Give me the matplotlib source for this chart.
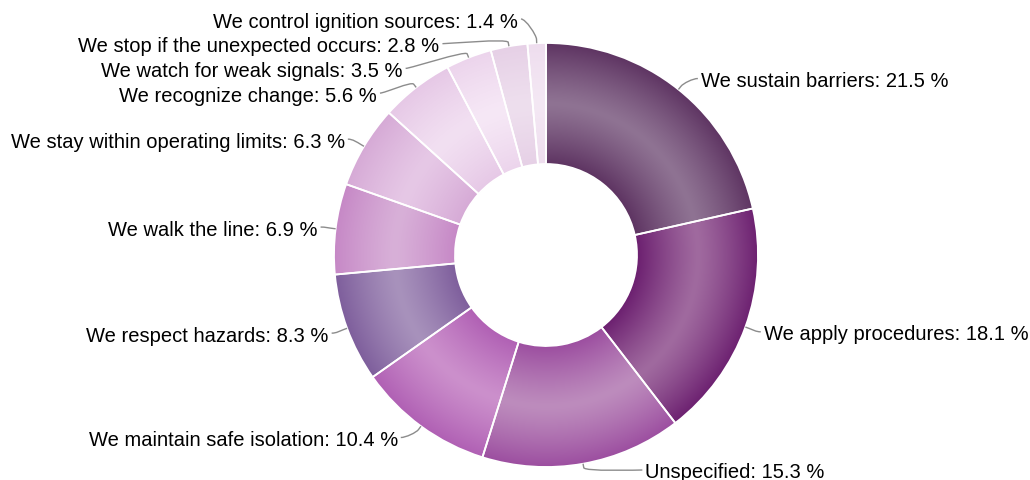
import numpy as np
import matplotlib.pyplot as plt
from matplotlib.patches import Wedge, PathPatch
from matplotlib.path import Path
from matplotlib.colors import to_rgb

plt.rcParams['font.family'] = ['Liberation Sans', 'DejaVu Sans']

# ------------------------------------------------------------
# Data
# ------------------------------------------------------------
labels = [
    'We sustain barriers',
    'We apply procedures',
    'Unspecified',
    'We maintain safe isolation',
    'We respect hazards',
    'We walk the line',
    'We stay within operating limits',
    'We recognize change',
    'We watch for weak signals',
    'We stop if the unexpected occurs',
    'We control ignition sources',
]
shares = [21.5, 18.1, 15.3, 10.4, 8.3, 6.9, 6.3, 5.6, 3.5, 2.8, 1.4]

# slice colours: (edge shade, mid-ring highlight)
edge_colors = ['#5e3462', '#6c2070', '#9c4ea0', '#b060b4', '#7e5e9c', '#c688c6',
               '#d6aad6', '#e6c8e6', '#ecd4ec', '#e6d0e6', '#eeddee']
mid_colors = ['#8f7393', '#a06a9f', '#bd8cbd', '#cc90cc', '#a892bc', '#d8b0d8',
              '#e6c8e6', '#f2e0f2', '#f6e8f6', '#eedfee', '#f4e8f4']

# ------------------------------------------------------------
# Layout (pixel units, y pointing down)
# ------------------------------------------------------------
W, H = 1030, 481
cx, cy = 546, 256
R_out, R_in = 212, 91
label_r = 226        # natural label radius
label_rx = 227       # horizontal radius used for label x
label_sq = 0.956
gap = 24.7
y_lo, y_hi = 20, 471

fig = plt.figure(figsize=(W / 100, H / 100), dpi=100)
ax = fig.add_axes([0, 0, 1, 1])
ax.set_xlim(0, W)
ax.set_ylim(H, 0)
ax.axis('off')

vals = np.array(shares, dtype=float)
frac = vals / vals.sum()
start = np.concatenate([[0], np.cumsum(frac)[:-1]]) * 360
end = np.cumsum(frac) * 360
mid = (start + end) / 2

# radial profile shared by all slices: bright at mid-ring, darker at both edges
res = 2
n = int(2 * R_out * res)
gx = np.linspace(cx - R_out, cx + R_out, n)
gy = np.linspace(cy - R_out, cy + R_out, n)
XX, YY = np.meshgrid(gx, gy)
rr = np.hypot(XX - cx, YY - cy)
r_mid = (R_out + R_in) / 2
t = np.clip(np.abs(rr - r_mid) / ((R_out - R_in) / 2), 0, 1) ** 1.2

for i in range(len(vals)):
    # clockwise from 12 o'clock on screen -> data angle with inverted y
    w = Wedge((cx, cy), R_out, start[i] - 90, end[i] - 90, width=R_out - R_in,
              facecolor='none', edgecolor='none')
    ax.add_patch(w)
    e = np.array(to_rgb(edge_colors[i]))
    m = np.array(to_rgb(mid_colors[i]))
    img = m[None, None, :] + (e - m)[None, None, :] * t[..., None]
    im = ax.imshow(img, extent=(cx - R_out, cx + R_out, cy + R_out, cy - R_out),
                   origin='upper', interpolation='bilinear', zorder=1)
    im.set_clip_path(w)
    ax.add_patch(Wedge((cx, cy), R_out, start[i] - 90, end[i] - 90,
                       width=R_out - R_in, facecolor='none',
                       edgecolor='white', linewidth=1.3, zorder=2))


# ------------------------------------------------------------
# Data labels: natural positions, then spread apart on each side
# ------------------------------------------------------------
def spread(targets, step, lo, hi):
    order = np.argsort(targets)
    groups = [[k] for k in order]

    def place(g):
        n_g = len(g)
        s = np.mean([targets[k] for k in g]) - (n_g - 1) / 2 * step
        s = max(s, lo)
        s = min(s, hi - (n_g - 1) * step)
        return s

    merged = True
    while merged:
        merged = False
        for j in range(len(groups) - 1):
            a, b = groups[j], groups[j + 1]
            if place(b) < place(a) + len(a) * step - 1e-6:
                groups[j] = a + b
                del groups[j + 1]
                merged = True
                break
    out = np.zeros(len(targets))
    for g in groups:
        s = place(g)
        for q, k in enumerate(g):
            out[k] = s + q * step
    return out


natural_y = cy - label_r * np.cos(np.radians(mid))
left = mid > 180
label_y = np.zeros(len(vals))
for side in (True, False):
    idx = np.where(left == side)[0]
    label_y[idx] = spread(natural_y[idx], gap, y_lo, y_hi)

for i in range(len(vals)):
    sgn = -1 if left[i] else 1
    dy = (label_y[i] - cy) * label_sq
    xl = cx + sgn * np.sqrt(max(label_rx ** 2 - dy ** 2, 0))
    yl = label_y[i]
    a = np.radians(mid[i])
    tx, ty = cx + R_out * np.sin(a), cy - R_out * np.cos(a)
    bx, by = cx + (R_out + 4) * np.sin(a), cy - (R_out + 4) * np.cos(a)
    path = Path([(xl, yl), (xl - sgn * 5, yl), (2 * bx - tx, 2 * by - ty),
                 (bx, by), (tx, ty)],
                [Path.MOVETO, Path.CURVE4, Path.CURVE4, Path.CURVE4, Path.LINETO])
    ax.add_patch(PathPatch(path, facecolor='none', edgecolor='#8c8c8c',
                           linewidth=1, zorder=3))
    ax.text(xl + sgn * 3, yl, f'{labels[i]}: {shares[i]} %',
            ha='right' if left[i] else 'left', va='center_baseline',
            fontsize=14.5, color='black', zorder=4)

fig.savefig('out.png', dpi=100)
